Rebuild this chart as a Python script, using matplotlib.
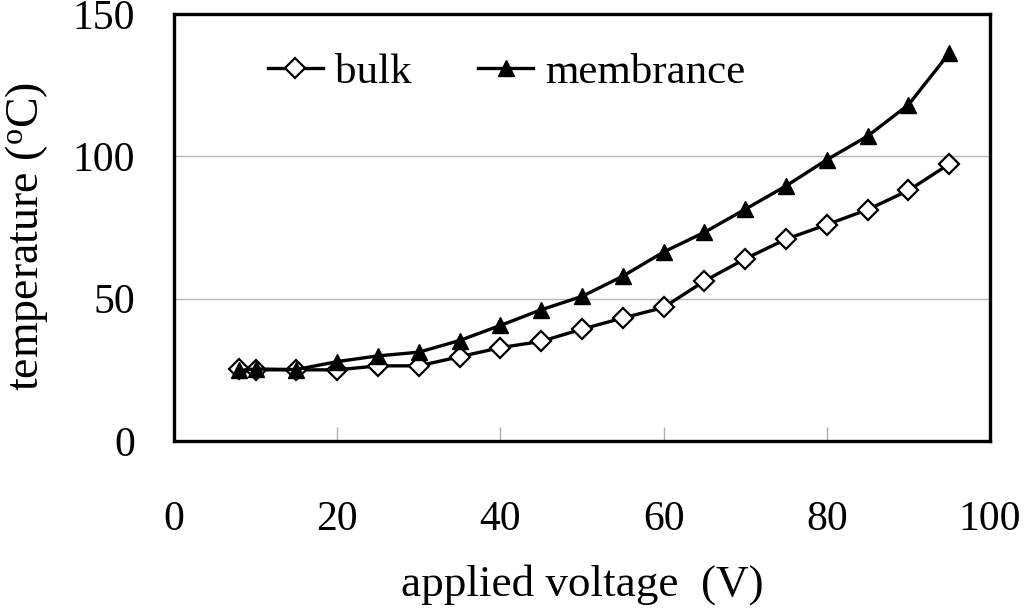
import numpy as np
import matplotlib
matplotlib.use('Agg')
import matplotlib.pyplot as plt

# applied voltage (V)
voltage = [8, 10, 15, 20, 25, 30, 35, 40, 45, 50, 55, 60, 65, 70, 75, 80, 85, 90, 95]
# temperatures (oC)
bulk = [25.2, 25.0, 25.0, 25.0, 26.4, 26.4, 29.6, 32.8, 35.0, 39.3, 43.2, 46.9,
        56.2, 64.0, 70.9, 76.0, 81.3, 88.0, 97.3]
membrance = [24.8, 25.3, 25.1, 27.9, 29.9, 31.2, 35.3, 40.6, 46.1, 50.8, 57.9, 66.4,
             73.3, 81.4, 89.6, 98.8, 107.1, 118.1, 136.2]

xTicks = [0, 20, 40, 60, 80, 100]
yTicks = [0, 50, 100, 150]

plt.rcParams['font.family'] = ['Liberation Serif', 'DejaVu Serif']

fig = plt.figure(figsize=(10.24, 6.09), dpi=100)
ax = fig.add_axes([174/1024, 1-441/609, (990-174)/1024, (441-14)/609])

ax.plot(voltage, bulk, '-', color='black', lw=2.4, marker='D', markersize=10,
        markerfacecolor='white', markeredgecolor='black', markeredgewidth=1.6,
        label='bulk', zorder=3)
ax.plot(voltage, membrance, '-', color='black', lw=2.4, marker='^', markersize=12,
        markerfacecolor='black', markeredgecolor='black', label='membrance', zorder=4)

ax.set_xlim(0, 100)
ax.set_ylim(0, 150)
ax.set_xticks(xTicks)
ax.set_yticks(yTicks)
ax.tick_params(axis='x', direction='in', length=10, width=1, color='#b0b0b0',
               labelsize=30, pad=43)
ax.tick_params(axis='y', length=0, labelsize=30, pad=28)
ax.grid(axis='y', color='#b8b8b8', lw=1)
ax.set_axisbelow(True)
for s in ax.spines.values():
    s.set_linewidth(2.4)
    s.set_color('black')

ax.set_xlabel('applied voltage  (V)', fontsize=32.5, labelpad=18)
ax.set_ylabel('temperature ($\\mathregular{^{o}}$C)', fontsize=33)
ax.yaxis.set_label_coords(-0.152, 0.48)

leg = ax.legend(loc='center left', bbox_to_anchor=(0.115, 0.864), ncol=2, frameon=False,
                fontsize=31, handlelength=1.28, handletextpad=0.28, columnspacing=1.55,
                borderaxespad=0, borderpad=0)

fig.savefig('out.png', dpi=100)
